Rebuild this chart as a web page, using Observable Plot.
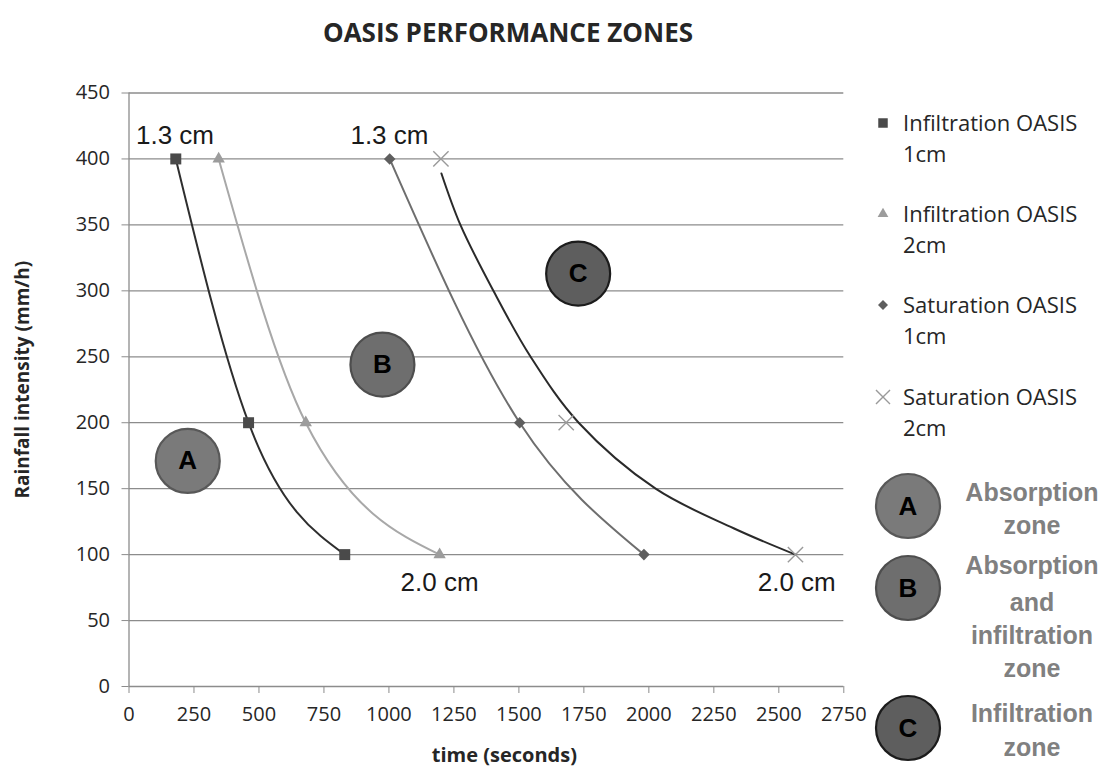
<!DOCTYPE html>
<html><head><meta charset="utf-8">
<script src="https://cdn.jsdelivr.net/npm/d3@7"></script>
<script src="https://cdn.jsdelivr.net/npm/@observablehq/plot@0.6"></script>
<style>
body{margin:0;background:#fff;}
#wrap{position:relative;width:1109px;height:769px;overflow:hidden;background:#fff;}
#title{position:absolute;left:0;top:0;width:1016px;height:50px;text-align:center;font-family:"Open Sans",sans-serif;font-weight:bold;font-size:26px;color:#262626;line-height:64px;}
#chart{position:absolute;left:0;top:50px;}
#chart svg{display:block;}
</style>
</head><body>
<div id="wrap"><div id="title">OASIS PERFORMANCE ZONES</div><div id="chart"></div></div>
<script>
// ---- data ----
const xTicks = [0, 250, 500, 750, 1000, 1250, 1500, 1750, 2000, 2250, 2500, 2750];
const yTicks = [0, 50, 100, 150, 200, 250, 300, 350, 400, 450];
const seriesNames = ["Infiltration OASIS 1cm", "Infiltration OASIS 2cm", "Saturation OASIS 1cm", "Saturation OASIS 2cm"];
const rainLevels = [400, 200, 100];
const infiltration1cm = [180, 460, 830];
const infiltration2cm = [345, 680, 1195];
const saturation1cm = [1003, 1503, 1981];
const saturation2cm = [1200, 1682, 2564];
const trendTime = [1202, 1275, 1402, 1545, 1730, 2026, 2326, 2564];
const trendRain = [389, 350, 300, 250, 200, 150, 120, 100];
const annotationLabels = ["1.3 cm", "1.3 cm", "2.0 cm", "2.0 cm"];
const annotationTime = [177, 1002, 1195, 2569];
const annotationRain = [418, 418, 79, 79];
const zoneLetters = ["A", "B", "C"];
const zoneTime = [226, 975, 1728];
const zoneRain = [171, 244, 313];
const zoneNames = [["Absorption", "zone"], ["Absorption", "and", "infiltration", "zone"], ["Infiltration", "zone"]];

// ---- tables ----
const rows = (arr, name) => arr.map((t, i) => ({series: name, time: t, rain: rainLevels[i]}));
const s1 = rows(infiltration1cm, seriesNames[0]);
const s2 = rows(infiltration2cm, seriesNames[1]);
const s3 = rows(saturation1cm, seriesNames[2]);
const s4 = rows(saturation2cm, seriesNames[3]);
const trend = trendTime.map((t, i) => ({time: t, rain: trendRain[i]}));
const annotations = annotationLabels.map((l, i) => ({label: l, time: annotationTime[i], rain: annotationRain[i]}));
const zones = zoneLetters.map((z, i) => ({letter: z, time: zoneTime[i], rain: zoneRain[i]}));
const zoneFill = ["#7a7a7a", "#6e6e6e", "#5e5e5e"];
const zoneStroke = ["#585858", "#4e4e4e", "#1c1c1c"];

const grid = "#8c8c8c";
const plot = Plot.plot({
  width: 860, height: 719,
  marginLeft: 128.5, marginRight: 16.7, marginTop: 42.5, marginBottom: 83,
  x: {domain: [0, 2750]},
  y: {domain: [0, 450]},
  style: {fontFamily: "'Open Sans', sans-serif", fontSize: "20px", color: "#262626", background: "#fff", overflow: "visible"},
  marks: [
    Plot.gridY(yTicks, {stroke: grid, strokeOpacity: 1, strokeWidth: 1.3}),
    Plot.ruleX([0], {stroke: grid, strokeWidth: 1.3}),
    Plot.axisX({ticks: xTicks, tickSize: 7, tickPadding: 13, tickFormat: d => String(d), label: null, stroke: grid, fill: "#262626", fontSize: 20}),
    Plot.axisY({ticks: yTicks, tickSize: 7, tickPadding: 12, tickFormat: d => String(d), label: null, stroke: grid, fill: "#262626", fontSize: 20}),
    Plot.text(["Rainfall intensity (mm/h)"], {text: d => d, frameAnchor: "left", textAnchor: "middle", dx: -106.5, dy: -10, rotate: -90, fontWeight: "bold", fontSize: 19, fill: "#262626"}),
    Plot.text(["time (seconds)"], {text: d => d, frameAnchor: "bottom", textAnchor: "middle", dx: 18, dy: 75, fontWeight: "bold", fontSize: 20, fill: "#262626"}),
    // zone circles
    Plot.dot(zones, {x: "time", y: "rain", r: 32, fill: (d, i) => zoneFill[i], stroke: (d, i) => zoneStroke[i], strokeWidth: 2.2}),
    Plot.text(zones, {x: "time", y: "rain", text: "letter", fontSize: 26, fontWeight: "bold", fill: "#000", fontFamily: "'Liberation Sans', Arial, sans-serif"}),
    // lines
    Plot.line(s1, {x: "time", y: "rain", curve: "monotone-x", stroke: "#2e2e2e", strokeWidth: 2}),
    Plot.line(s2, {x: "time", y: "rain", curve: "monotone-x", stroke: "#a8a8a8", strokeWidth: 2}),
    Plot.line(s3, {x: "time", y: "rain", curve: "monotone-x", stroke: "#6e6e6e", strokeWidth: 2}),
    Plot.line(trend, {x: "time", y: "rain", curve: "catmull-rom", stroke: "#2a2a2a", strokeWidth: 2}),
    // markers
    Plot.dot(s1, {x: "time", y: "rain", symbol: "square", r: 6.2, fill: "#4a4a4a"}),
    Plot.dot(s2, {x: "time", y: "rain", symbol: "triangle", r: 4.6, fill: "#9c9c9c"}),
    Plot.dot(s3, {x: "time", y: "rain", symbol: "square", rotate: 45, r: 4.6, fill: "#5e5e5e"}),
    Plot.dot(s4, {x: "time", y: "rain", symbol: "times", r: 7, stroke: "#9a9a9a", strokeWidth: 1.4, fill: "none"}),
    // annotations
    Plot.text(annotations, {x: "time", y: "rain", text: "label", fontSize: 26, fill: "#1a1a1a", fontFamily: "'Liberation Sans', Arial, sans-serif"})
  ]
});
document.getElementById("chart").appendChild(plot);

// ---- legend ----
const leg = d3.select("#wrap").append("svg")
  .attr("width", 249).attr("height", 769)
  .style("position", "absolute").style("left", "860px").style("top", "0px");
const legMarkers = [
  {type: d3.symbolSquare, size: 90, fill: "#4a4a4a", stroke: "none", rot: 0},
  {type: d3.symbolTriangle, size: 50, fill: "#9c9c9c", stroke: "none", rot: 0},
  {type: d3.symbolSquare, size: 50, fill: "#5e5e5e", stroke: "none", rot: 45},
  {type: d3.symbolTimes, size: 130, fill: "none", stroke: "#9a9a9a", rot: 0}
];
const legY = [123, 214, 305, 397];
seriesNames.forEach((name, i) => {
  const m = legMarkers[i];
  const parts = [name.replace(/ (\S+)$/, ""), name.match(/(\S+)$/)[1]];
  leg.append("path").attr("d", d3.symbol(m.type, m.size)())
    .attr("transform", `translate(23,${legY[i]}) rotate(${m.rot})`)
    .attr("fill", m.fill).attr("stroke", m.stroke).attr("stroke-width", 1.4);
  parts.forEach((p, j) => {
    leg.append("text").attr("x", 43).attr("y", legY[i] + j * 31).attr("dy", "0.36em")
      .attr("font-family", "'Open Sans', sans-serif").attr("font-size", 22).attr("fill", "#262626").text(p);
  });
});
const zoneLegY = [506, 588, 728];
const zoneTextY = [[492, 525], [565, 602, 635, 668], [713, 747]];
zoneLetters.forEach((z, i) => {
  leg.append("circle").attr("cx", 48).attr("cy", zoneLegY[i]).attr("r", 32)
    .attr("fill", zoneFill[i]).attr("stroke", zoneStroke[i]).attr("stroke-width", 2.2);
  leg.append("text").attr("x", 48).attr("y", zoneLegY[i]).attr("dy", "0.36em").attr("text-anchor", "middle")
    .attr("font-family", "'Liberation Sans', Arial, sans-serif").attr("font-weight", "bold").attr("font-size", 26).attr("fill", "#000").text(z);
  zoneNames[i].forEach((t, j) => {
    leg.append("text").attr("x", 172).attr("y", zoneTextY[i][j]).attr("dy", "0.36em").attr("text-anchor", "middle")
      .attr("font-family", "'Liberation Sans', Arial, sans-serif").attr("font-weight", "bold").attr("font-size", 25).attr("fill", "#808080").text(t);
  });
});
</script>
</body></html>
